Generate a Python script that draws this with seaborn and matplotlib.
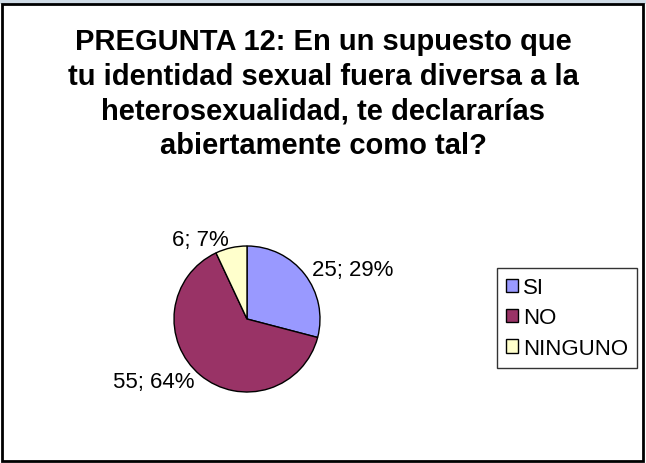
import seaborn as sns
import matplotlib.pyplot as plt
from matplotlib.patches import Rectangle

# data
categories = ['SI', 'NO', 'NINGUNO']
counts = [25, 55, 6]
percents = [29, 64, 7]
colors = ['#9999FF', '#993366', '#FFFFCC']

sns.set_theme(style='white')
plt.rcParams['font.family'] = ['Liberation Sans', 'DejaVu Sans']
plt.rcParams['text.color'] = 'black'

fig = plt.figure(figsize=(6.46, 4.64), dpi=100)
fig.patch.set_facecolor('white')

# light strip on top, then the chart frame (behind the axes)
fig.patches.append(Rectangle((0, 1 - 5 / 464), 1, 5 / 464, transform=fig.transFigure,
                             facecolor='#cfdbe6', edgecolor='none', zorder=-2))
fig.patches.append(Rectangle((2 / 646, 2 / 464), 641 / 646, 457 / 464, transform=fig.transFigure,
                             facecolor='none', edgecolor='black', linewidth=2, zorder=-1))

fig.text(0.5, 1 - 28 / 464,
         'PREGUNTA 12: En un supuesto que\ntu identidad sexual fuera diversa a la\n'
         'heterosexualidad, te declararías\nabiertamente como tal?',
         ha='center', va='top', fontsize=21, fontweight='bold', linespacing=1.3,
         color='black')

# pie axes: centre (247, 320) px, radius 73 px
k = 1.25
size = 2 * k * 73
ax = fig.add_axes([(247 - size / 2) / 646, (464 - 320 - size / 2) / 464, size / 646, size / 464])
labels = [f'{c}; {p}%' for c, p in zip(counts, percents)]
wedges, texts = ax.pie(counts, labels=labels, colors=colors, startangle=90, counterclock=False,
                       labeldistance=1.12, wedgeprops=dict(edgecolor='black', linewidth=1),
                       textprops=dict(fontsize=16, color='black'))
for t in texts:
    t.set_va('center')
ax.set_xlim(-k, k)
ax.set_ylim(-k, k)
ax.set_aspect('equal')
ax.axis('off')

leg = fig.legend(wedges, categories, loc='center', bbox_to_anchor=(567 / 646, 1 - 319 / 464),
                 fontsize=16, frameon=True, fancybox=False, edgecolor='black',
                 handlelength=0.55, handleheight=0.55, handletextpad=0.2,
                 labelspacing=0.42, borderpad=0.42, borderaxespad=0)
leg.get_frame().set_linewidth(1)
for h in leg.legend_handles:
    h.set_linewidth(1)
for t in leg.get_texts():
    t.set_color('black')

plt.savefig('out.png', dpi=100)
